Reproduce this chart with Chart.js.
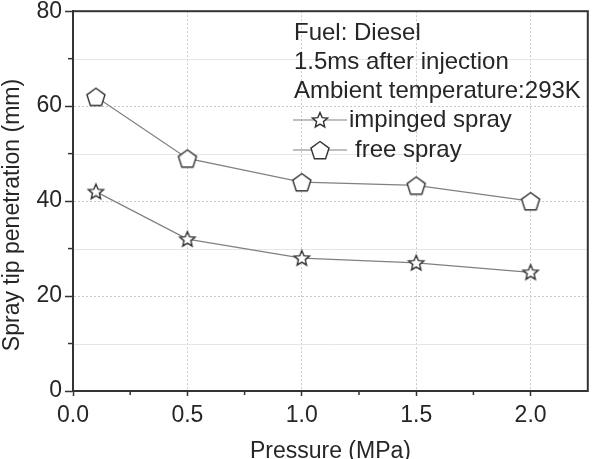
<!DOCTYPE html>
<html><head><meta charset="utf-8">
<script src="https://cdn.jsdelivr.net/npm/chart.js@4.4.1/dist/chart.umd.min.js"></script>
<style>html,body{margin:0;padding:0;background:#fff}#wrap{width:599px;height:459px}</style>
</head><body><div id="wrap"><canvas id="c" width="599" height="459"></canvas></div>
<script>
const pressure = [0.1, 0.5, 1.0, 1.5, 2.0];
const impingedSpray = [42, 32, 28, 27, 25];
const freeSpray = [62, 49, 44, 43.3, 40];
const xTicks = [0, 0.5, 1.0, 1.5, 2.0];
const xMinorTicks = [0.25, 0.75, 1.25, 1.75];
const yTicks = [0, 20, 40, 60, 80];
const yMinorTicks = [10, 30, 50, 70];
const notes = ['Fuel: Diesel', '1.5ms after injection', 'Ambient temperature:293K'];
const seriesNames = ['impinged spray', 'free spray'];
const xTitle = 'Pressure (MPa)';
const yTitle = 'Spray tip penetration (mm)';

const FONT = "'Liberation Sans', Arial, sans-serif";
const TXT = '#262626';
const MARK = '#333';
const LINE = '#808080';

function makeMarker(kind) {
  const size = 24, c = document.createElement('canvas');
  c.width = size; c.height = size;
  const g = c.getContext('2d'), cx = size / 2, cy = size / 2;
  g.beginPath();
  if (kind === 'star') {
    const ro = 8, ri = 3.6;
    for (let i = 0; i < 10; i++) {
      const r = i % 2 ? ri : ro, a = -Math.PI / 2 + i * Math.PI / 5;
      const px = cx + r * Math.cos(a), py = cy + 0.5 + r * Math.sin(a);
      i ? g.lineTo(px, py) : g.moveTo(px, py);
    }
  } else {
    const r = 9.5;
    for (let i = 0; i < 5; i++) {
      const a = -Math.PI / 2 + i * 2 * Math.PI / 5;
      const px = cx + r * Math.cos(a), py = cy + 1 + r * Math.sin(a);
      i ? g.lineTo(px, py) : g.moveTo(px, py);
    }
  }
  g.closePath();
  g.fillStyle = '#fff'; g.fill();
  g.lineWidth = 1.4; g.strokeStyle = MARK; g.lineJoin = 'miter'; g.stroke();
  return c;
}
const starImg = makeMarker('star');
const pentImg = makeMarker('pent');

const extras = {
  id: 'extras',
  beforeDatasetsDraw(chart) {
    const {ctx, chartArea: a, scales: {x, y}} = chart;
    ctx.save();
    ctx.strokeStyle = '#e6e6e6'; ctx.lineWidth = 1;
    yMinorTicks.forEach(v => {
      const py = Math.round(y.getPixelForValue(v)) + 0.5;
      ctx.beginPath(); ctx.moveTo(a.left, py); ctx.lineTo(a.right, py); ctx.stroke();
    });
    ctx.restore();
  },
  afterDraw(chart) {
    const {ctx, chartArea: a, scales: {x, y}} = chart;
    ctx.save();
    ctx.strokeStyle = '#333'; ctx.lineWidth = 2;
    ctx.strokeRect(a.left, a.top, a.right - a.left, a.bottom - a.top);
    ctx.lineWidth = 1.5;
    yMinorTicks.forEach(v => {
      const py = y.getPixelForValue(v);
      ctx.beginPath(); ctx.moveTo(a.left - 5, py); ctx.lineTo(a.left, py); ctx.stroke();
    });
    xMinorTicks.forEach(v => {
      const px = x.getPixelForValue(v);
      ctx.beginPath(); ctx.moveTo(px, a.bottom); ctx.lineTo(px, a.bottom + 4); ctx.stroke();
    });
    ctx.fillStyle = TXT;
    ctx.font = '23px ' + FONT;
    ctx.textAlign = 'center'; ctx.textBaseline = 'middle';
    ctx.fillText(xTitle, (a.left + a.right) / 2, 452);
    ctx.save();
    ctx.translate(13, 215); ctx.rotate(-Math.PI / 2);
    ctx.fillText(yTitle, 0, 0);
    ctx.restore();
    ctx.font = '24px ' + FONT;
    ctx.textAlign = 'left';
    const lx = 294, rows = [33, 62, 91, 120, 150];
    notes.forEach((t, i) => ctx.fillText(t, lx, rows[i]));
    const imgs = [starImg, pentImg], txtX = [349, 355];
    seriesNames.forEach((t, i) => {
      const ry = rows[3 + i];
      ctx.strokeStyle = LINE; ctx.lineWidth = 1.2;
      ctx.beginPath(); ctx.moveTo(293, ry); ctx.lineTo(347, ry); ctx.stroke();
      ctx.drawImage(imgs[i], 320 - imgs[i].width / 2, ry - imgs[i].height / 2);
      ctx.fillText(t, txtX[i], ry);
    });
    ctx.restore();
  }
};

new Chart(document.getElementById('c'), {
  type: 'line',
  data: {
    datasets: [
      { label: seriesNames[0], data: pressure.map((p, i) => ({x: p, y: impingedSpray[i]})),
        borderColor: LINE, borderWidth: 1.2, pointStyle: starImg, pointRadius: 9, tension: 0 },
      { label: seriesNames[1], data: pressure.map((p, i) => ({x: p, y: freeSpray[i]})),
        borderColor: LINE, borderWidth: 1.2, pointStyle: pentImg, pointRadius: 10, tension: 0 }
    ]
  },
  options: {
    responsive: false, animation: false, devicePixelRatio: 1,
    layout: { padding: { top: 9, right: 11, left: 0, bottom: 0 } },
    plugins: { legend: { display: false }, tooltip: { enabled: false } },
    scales: {
      x: {
        type: 'linear', min: 0, max: 2.25,
        afterBuildTicks: s => { s.ticks = xTicks.map(v => ({ value: v })); },
        afterFit: s => { s.height = 68; s.paddingLeft = 0; s.paddingRight = 0; },
        ticks: { callback: v => Number(v).toFixed(1), font: { size: 23, family: FONT }, color: TXT, padding: 6, maxRotation: 0 },
        grid: { color: '#c8c8c8', lineWidth: 1, tickLength: 5, tickColor: '#333', tickWidth: 1.5 },
        border: { display: true, color: '#333', width: 2, dash: [2, 2] }
      },
      y: {
        type: 'linear', min: 0, max: 80,
        afterBuildTicks: s => { s.ticks = yTicks.map(v => ({ value: v })); },
        afterFit: s => { s.width = 73; s.paddingTop = 0; s.paddingBottom = 0; },
        ticks: { font: { size: 23, family: FONT }, color: TXT, padding: 3 },
        grid: { color: '#c8c8c8', lineWidth: 1, tickLength: 8, tickColor: '#333', tickWidth: 1.5 },
        border: { display: true, color: '#333', width: 2, dash: [2, 2] }
      }
    }
  },
  plugins: [extras]
});
</script></body></html>
